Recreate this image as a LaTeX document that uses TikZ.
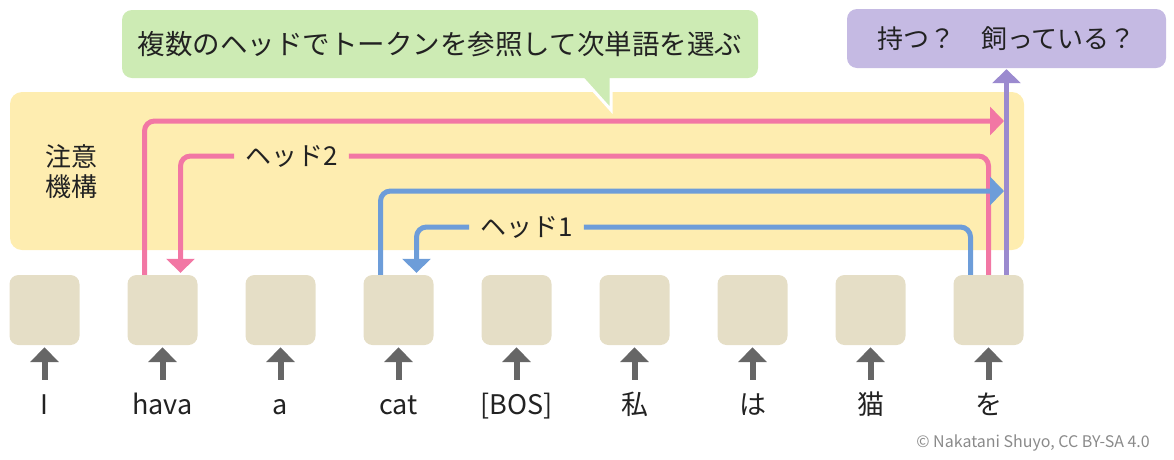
\documentclass[tikz,border=0pt]{standalone}
\usepackage{fontspec}
\setmainfont{Noto Sans CJK JP}
\usetikzlibrary{arrows.meta}
\definecolor{areayellow}{HTML}{FEEDB0}
\definecolor{bubblegreen}{HTML}{CDEBB4}
\definecolor{anspurple}{HTML}{C5BAE3}
\definecolor{tokcol}{HTML}{E5DEC6}
\definecolor{headpink}{HTML}{F277A4}
\definecolor{headblue}{HTML}{6D9DD9}
\definecolor{outpurple}{HTML}{9B8ACF}
\definecolor{arrowgray}{HTML}{666666}
\definecolor{textcol}{HTML}{222222}
\definecolor{notecol}{HTML}{8A8A8A}

\begin{document}
\begin{tikzpicture}[x=1pt,y=-1pt,
    tokbox/.style={fill=tokcol, rounded corners=9pt, minimum width=70pt, minimum height=70pt, inner sep=0pt},
    toklabel/.style={font=\fontsize{27pt}{30pt}\selectfont, text=textcol, anchor=base, inner sep=0pt, text height=21pt},
    inarrow/.style={draw=arrowgray, line width=6pt, -{Triangle[length=15pt,width=28pt]}, shorten <=13pt, shorten >=2pt},
    headone/.style={draw=headblue, line width=5pt, rounded corners=10pt},
    headtwo/.style={draw=headpink, line width=5pt, rounded corners=10pt},
    outline/.style={draw=outpurple, line width=5pt},
    tip/.style={-{Triangle[length=14pt,width=28pt]}},
    headlabel/.style={font=\fontsize{26pt}{30pt}\selectfont, text=textcol, inner xsep=11pt, inner ysep=0pt}]

    \useasboundingbox (0,0) rectangle (1174,459);

    % attention area
    \fill[areayellow, rounded corners=12pt] (10,92) rectangle (1024,250);
    \node[font=\fontsize{26pt}{30pt}\selectfont, text=textcol, align=center] (attn) at (71,172) {注意\\機構};

    % speech bubble
    \filldraw[fill=bubblegreen, draw=white, line width=3pt] (575,70) -- (611,70) -- (611,110) -- cycle;
    \node[fill=bubblegreen, rounded corners=10pt, minimum width=636pt, minimum height=68pt,
          font=\fontsize{27.5pt}{30pt}\selectfont, text=textcol] (bubble) at (440,44) {複数のヘッドでトークンを参照して次単語を選ぶ};

    % answer
    \node[fill=anspurple, rounded corners=10pt, minimum width=319pt, minimum height=59pt,
          font=\fontsize{26pt}{30pt}\selectfont, text=textcol] (ans) at (1006.5,38.5) {持つ？　飼っている？};

    % tokens
    \foreach \w [count=\i] in {I,hava,a,cat,{[BOS]},私,は,猫,を} {
        \node[tokbox] (tok\i) at ({44.5+118*(\i-1)},310) {};
        \node[toklabel] (lab\i) at ({44.5+118*(\i-1)},414) {\w};
        \draw[inarrow] (lab\i.north) -- (tok\i.south);
    }

    % heads
    \coordinate (sinktwo) at (1004,121);
    \coordinate (sinkone) at (1004,191);
    \node[headlabel] (hdtwo) at (291.5,156) {ヘッド2};
    \node[headlabel] (hdone) at (526.5,227) {ヘッド1};

    \draw[headtwo,tip,shorten >=2pt] (tok9.north) |- (hdtwo) -| ([xshift=18pt]tok2.north);
    \draw[headtwo,tip] ([xshift=-18pt]tok2.north) |- (sinktwo);

    \draw[headone,tip,shorten >=2pt] ([xshift=-18pt]tok9.north) |- (hdone) -| ([xshift=18pt]tok4.north);
    \draw[headone,tip] ([xshift=-18pt]tok4.north) |- (sinkone);

    % output
    \draw[outline,tip,shorten >=1pt] ([xshift=18pt]tok9.north) -- (ans);

    \node[anchor=base east, font=\fontsize{16pt}{18pt}\selectfont, text=notecol, inner sep=0pt] (credit) at (1150,447) {© Nakatani Shuyo, CC BY-SA 4.0};

\end{tikzpicture}
\end{document}
